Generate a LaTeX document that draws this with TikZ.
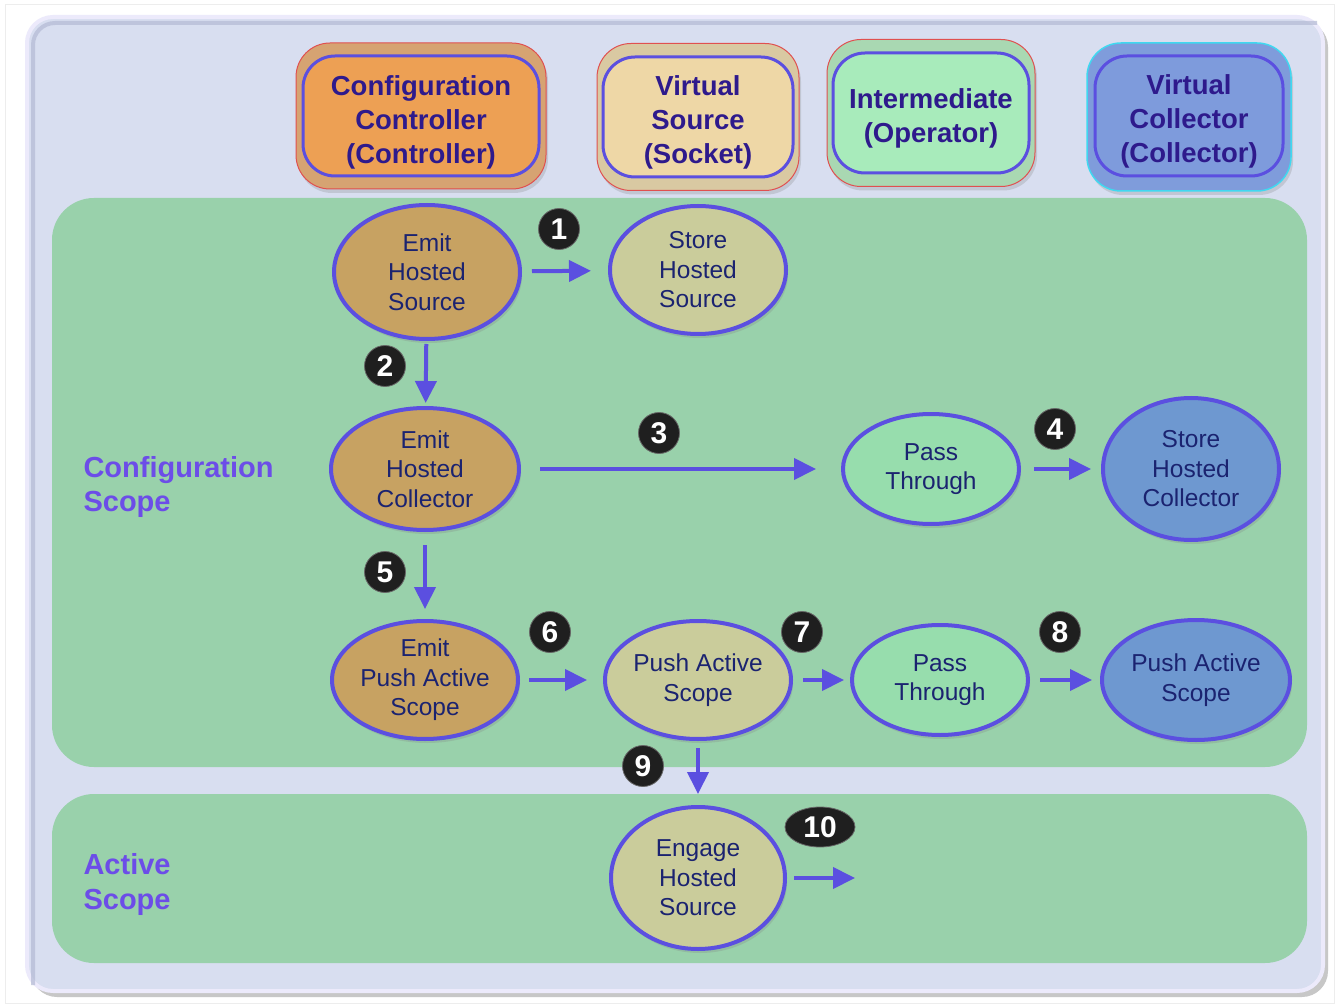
\documentclass[tikz,border=0pt]{standalone}
\usepackage{fontspec}
\setmainfont{Liberation Sans}
\usetikzlibrary{shapes.geometric,arrows.meta,shadows}

\definecolor{panel}{HTML}{D8DEF0}
\definecolor{panelrim}{HTML}{ECEAFB}
\definecolor{panelinset}{HTML}{B4BAD4}
\definecolor{scopegreen}{HTML}{99D1AB}
\definecolor{edgeblue}{HTML}{5B4FE0}
\definecolor{headtext}{HTML}{2E1A8C}
\definecolor{nodetext}{HTML}{1B2370}
\definecolor{scopetext}{HTML}{6C4DE8}
\definecolor{ctlouter}{HTML}{D6A372}
\definecolor{ctlinner}{HTML}{EDA054}
\definecolor{srcouter}{HTML}{D9C9A2}
\definecolor{srcinner}{HTML}{EED7A6}
\definecolor{opouter}{HTML}{A9D8B2}
\definecolor{opinner}{HTML}{A8EBBB}
\definecolor{colouter}{HTML}{7F9CDB}
\definecolor{colinner}{HTML}{7E9BDC}
\definecolor{redrim}{HTML}{E05050}
\definecolor{cyanrim}{HTML}{40D8F0}
\definecolor{brownfill}{HTML}{C7A262}
\definecolor{khakifill}{HTML}{CACC9B}
\definecolor{greenfill}{HTML}{97DDAD}
\definecolor{bluefill}{HTML}{6E98D0}

\tikzset{
  softshadow/.style={drop shadow={opacity=0.25,shadow xshift=2pt,shadow yshift=-4pt}},
  headouter/.style={rectangle,rounded corners=34pt,line width=1pt,inner sep=0pt,softshadow},
  headinner/.style={rectangle,rounded corners=32pt,draw=edgeblue,line width=3pt,inner sep=0pt},
  headlabel/.style={align=center,inner sep=0pt,text=headtext,font=\bfseries\fontsize{27.5}{34}\selectfont},
  task/.style={ellipse,draw=edgeblue,line width=4pt,inner sep=0pt,align=center,
    text=nodetext,font=\fontsize{24.5}{29.5}\selectfont,softshadow},
  badge/.style={circle,fill=black!88,draw=black!60,line width=0.8pt,minimum size=41pt,inner sep=0pt,
    text=white,font=\bfseries\fontsize{30}{30}\selectfont},
  flow/.style={draw=edgeblue,line width=4pt,-{Triangle[length=22pt,width=21pt]}},
  scopelabel/.style={anchor=west,align=left,text=scopetext,font=\bfseries\fontsize{29}{35}\selectfont},
}

\begin{document}
\begin{tikzpicture}[x=1pt,y=-1pt]
\useasboundingbox (0,0) rectangle (1339,1008);
\fill[white] (0,0) rectangle (1339,1008);
\draw[black!7,line width=1pt] (5,5) rectangle (1334,1003);

% outer panel with inset shading along the top and left
\fill[black!22] (31,21) [rounded corners=26pt] rectangle (1328,997);
\filldraw[fill=panel,draw=panelrim,line width=4pt,rounded corners=26pt] (27,17) rectangle (1323,991);
\draw[panelinset,line width=4pt,opacity=0.7,rounded corners=22pt]
  (33,985) -- (33,23) -- (1317,23);

% scope regions
\fill[scopegreen,rounded corners=42pt] (52,198) rectangle (1307,767);
\fill[scopegreen,rounded corners=42pt] (52,794) rectangle (1307,963);
\node[scopelabel] (cfgscope) at (80,487) {Configuration\\Scope};
\node[scopelabel] (actscope) at (80,884) {Active\\Scope};

% header boxes
\node[headouter,fill=ctlouter,draw=redrim,minimum width=250pt,minimum height=146pt] (ctlbox) at (421,116) {};
\node[headinner,fill=ctlinner,minimum width=236pt,minimum height=120pt] (ctl) at (421,116) {};
\node[headlabel] (ctltext) at (421,122) {Configuration\\Controller\\(Controller)};
\node[headouter,fill=srcouter,draw=redrim,minimum width=202pt,minimum height=147pt] (srcbox) at (698,117) {};
\node[headinner,fill=srcinner,minimum width=190pt,minimum height=120pt] (src) at (698,117) {};
\node[headlabel] (srctext) at (698,122) {Virtual\\Source\\(Socket)};
\node[headouter,fill=opouter,draw=redrim,minimum width=208pt,minimum height=147pt] (opbox) at (931,113) {};
\node[headinner,fill=opinner,minimum width=196pt,minimum height=120pt] (op) at (931,113) {};
\node[headlabel] (optext) at (931,118) {Intermediate\\(Operator)};
\node[headouter,fill=colouter,draw=cyanrim,line width=1.5pt,minimum width=204pt,minimum height=148pt] (colbox) at (1189,117) {};
\node[headinner,fill=colinner,minimum width=188pt,minimum height=120pt] (col) at (1189,116) {};
\node[headlabel] (coltext) at (1189,121) {Virtual\\Collector\\(Collector)};

% configuration scope tasks
\node[task,fill=brownfill,minimum width=186pt,minimum height=134pt] (ehs) at (427,272) {Emit\\Hosted\\Source};
\node[task,fill=khakifill,minimum width=176pt,minimum height=128pt] (shs) at (698,270) {Store\\Hosted\\Source};
\node[task,fill=brownfill,minimum width=188pt,minimum height=122pt] (ehc) at (425,469) {Emit\\Hosted\\Collector};
\node[task,fill=greenfill,minimum width=176pt,minimum height=110pt] (pt1) at (931,469) {Pass\\Through};
\node[task,fill=bluefill,minimum width=176pt,minimum height=142pt] (shc) at (1191,469) {Store\\Hosted\\Collector};
\node[task,fill=brownfill,minimum width=186pt,minimum height=118pt] (epa) at (425,680) {Emit\\Push Active\\Scope};
\node[task,fill=khakifill,minimum width=186pt,minimum height=118pt] (pas) at (698,680) {Push Active\\Scope};
\node[task,fill=greenfill,minimum width=176pt,minimum height=110pt] (pt2) at (940,680) {Pass\\Through};
\node[task,fill=bluefill,minimum width=188pt,minimum height=120pt] (pac) at (1196,680) {Push Active\\Scope};

% active scope task
\node[task,fill=khakifill,minimum width=174pt,minimum height=142pt] (ehsa) at (698,878) {Engage\\Hosted\\Source};
\coordinate (out10) at (855,878);

% flows
\draw[flow,shorten <=10pt,shorten >=17pt] (ehs) -- (shs);
\draw[flow,shorten <=3pt,shorten >=3pt] (ehs) -- (ehc);
\draw[flow,shorten <=19pt,shorten >=25pt] (ehc) -- (pt1);
\draw[flow,shorten <=13pt,shorten >=10pt] (pt1) -- (shc);
\draw[flow,shorten <=13pt,shorten >=10pt] (ehc) -- (epa);
\draw[flow,shorten <=9pt,shorten >=16pt] (epa) -- (pas);
\draw[flow,shorten <=10pt,shorten >=6pt] (pas) -- (pt2);
\draw[flow,shorten <=10pt,shorten >=8pt] (pt2) -- (pac);
\draw[flow,shorten <=7pt,shorten >=11pt] (pas) -- (ehsa);
\draw[flow,shorten <=7pt] (ehsa) -- (out10);

% step numbers
\node[badge] (b1) at (559,229) {1};
\node[badge] (b2) at (385,366) {2};
\node[badge] (b3) at (659,433) {3};
\node[badge] (b4) at (1055,429) {4};
\node[badge] (b5) at (385,572) {5};
\node[badge] (b6) at (550,632) {6};
\node[badge] (b7) at (802,632) {7};
\node[badge] (b8) at (1060,632) {8};
\node[badge] (b9) at (643,766) {9};
\node[badge,ellipse,minimum width=70pt,minimum height=40pt] (b10) at (820,827) {10};
\end{tikzpicture}
\end{document}
